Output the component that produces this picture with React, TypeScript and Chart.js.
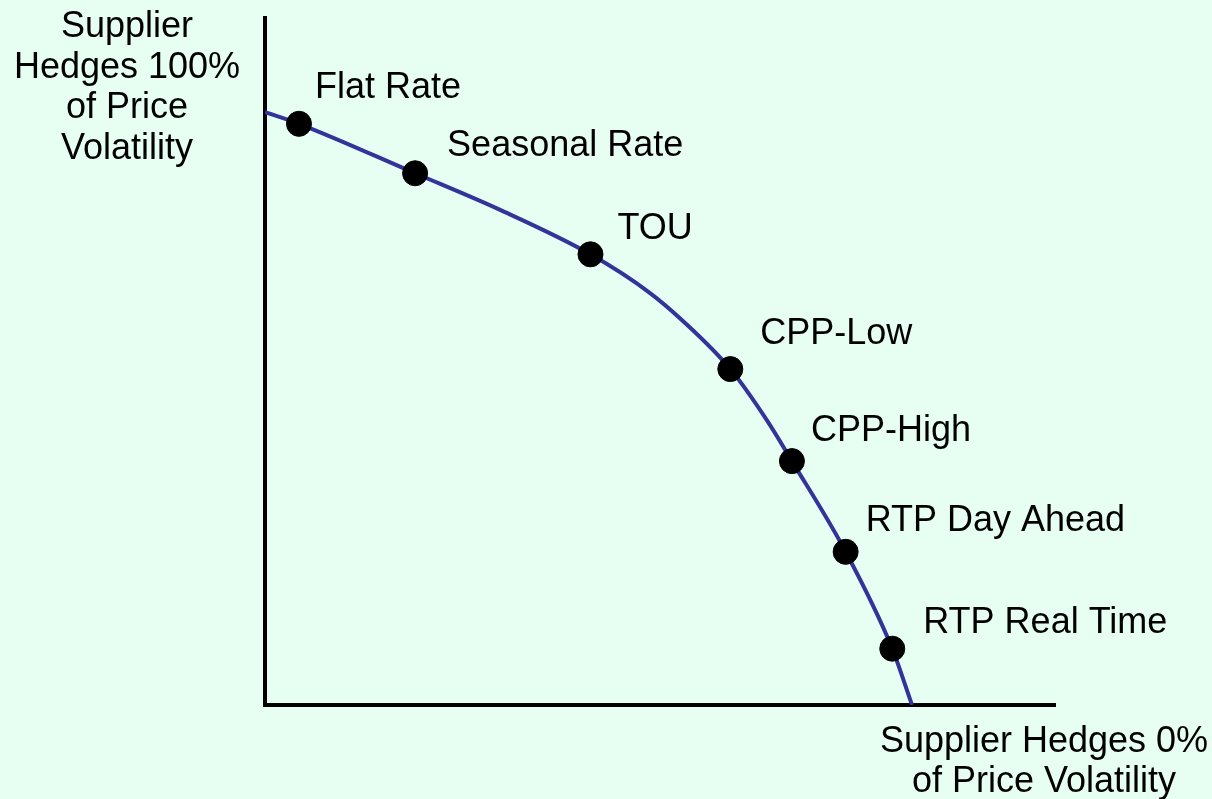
import React, { useEffect, useRef } from "react";
import { Chart, registerables } from "chart.js";

Chart.register(...registerables);

// Rate designs along the hedging frontier (x: share of price volatility passed to customer, y: share hedged by supplier)
const rateLabels = ["Flat Rate", "Seasonal Rate", "TOU", "CPP-Low", "CPP-High", "RTP Day Ahead", "RTP Real Time"];
const rateX = [4.3, 19.0, 41.2, 58.9, 66.7, 73.5, 79.4];
const rateY = [84.6, 77.4, 65.6, 48.9, 35.5, 22.3, 8.2];

// Frontier curve (includes the axis end points)
const curveX = [0, 4.3, 19.0, 29.7, 41.2, 48.7, 52.9, 58.9, 63.5, 66.7, 73.5, 79.4, 81.9];
const curveY = [86.3, 84.6, 77.4, 72.1, 65.6, 60.0, 55.9, 48.9, 41.5, 35.5, 22.3, 8.2, 0];

const yTitleLines = ["Supplier", "Hedges 100%", "of Price", "Volatility"];
const xTitleLines = ["Supplier Hedges 0%", "of Price Volatility"];

// label placement relative to each dot (dx, baseline dy) in px
const labelOffsets: [number, number][] = [
  [16, -26],
  [32, -17],
  [27, -15],
  [30, -25],
  [19, -20],
  [20, -21],
  [31, -16],
];

const FONT = '36px "Liberation Sans", Arial, sans-serif';
const BG = "#E6FFF2";

const annotationPlugin = {
  id: "frontierText",
  afterDatasetsDraw(chart: any) {
    const ctx = chart.ctx as CanvasRenderingContext2D;
    const area = chart.chartArea;
    const meta = chart.getDatasetMeta(0);
    ctx.save();
    ctx.font = FONT;
    ctx.fillStyle = "#000";
    ctx.textBaseline = "alphabetic";
    ctx.textAlign = "left";
    meta.data.forEach((pt: any, i: number) => {
      const [dx, dy] = labelOffsets[i];
      ctx.fillText(rateLabels[i], pt.x + dx, pt.y + dy);
    });
    ctx.textAlign = "center";
    yTitleLines.forEach((line, i) => {
      ctx.fillText(line, area.left - 138, area.top + 19 + i * 40.7);
    });
    xTitleLines.forEach((line, i) => {
      ctx.fillText(line, area.right - 11, area.bottom + 47 + i * 40);
    });
    ctx.restore();
  },
};

export default function App() {
  const canvasRef = useRef<HTMLCanvasElement | null>(null);

  useEffect(() => {
    const canvas = canvasRef.current;
    if (!canvas) return;
    const dots = rateX.map((x, i) => ({ x, y: rateY[i] }));
    const curve = curveX.map((x, i) => ({ x, y: curveY[i] }));
    const axisOpts = {
      type: "linear" as const,
      min: 0,
      max: 100,
      ticks: { display: false },
      grid: { display: false, drawTicks: false },
      border: { display: true, color: "#000", width: 4 },
    };
    const chart = new Chart(canvas, {
      type: "scatter",
      data: {
        datasets: [
          {
            type: "scatter",
            label: "Rate designs",
            data: dots,
            backgroundColor: "#000",
            borderColor: "#000",
            pointRadius: 12.5,
            pointHoverRadius: 12.5,
            order: 0,
          },
          {
            type: "line",
            label: "Frontier",
            data: curve,
            borderColor: "#333399",
            borderWidth: 4,
            pointRadius: 0,
            fill: false,
            cubicInterpolationMode: "monotone",
            order: 1,
          } as any,
        ],
      },
      options: {
        animation: false,
        responsive: false,
        layout: { padding: { left: 265, right: 157, top: 18, bottom: 94 } },
        plugins: { legend: { display: false }, tooltip: { enabled: false } },
        events: [],
        scales: { x: axisOpts, y: axisOpts },
      },
      plugins: [annotationPlugin],
    });
    return () => chart.destroy();
  }, []);

  return (
    <div
      style={{
        position: "fixed",
        left: 0,
        top: 0,
        width: 1212,
        height: 799,
        background: BG,
      }}
    >
      <canvas ref={canvasRef} width={1212} height={799} style={{ display: "block" }} />
    </div>
  );
}
